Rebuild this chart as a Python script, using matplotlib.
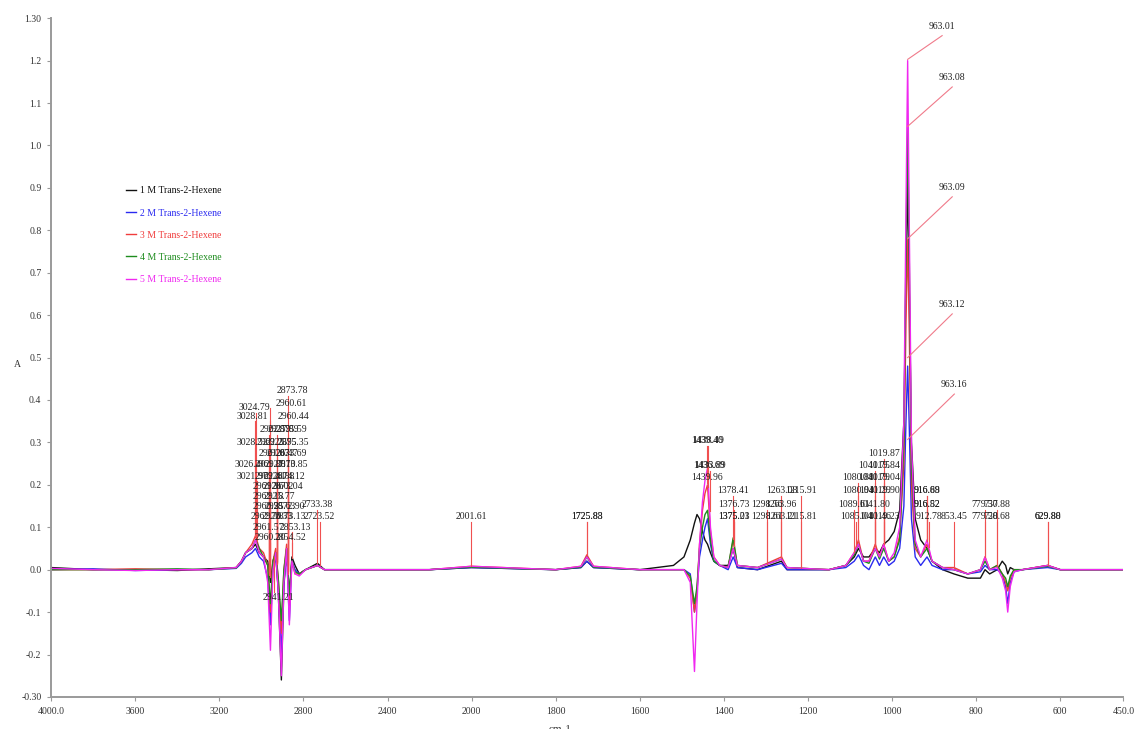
import numpy as np
import matplotlib
matplotlib.use('Agg')
import matplotlib.pyplot as plt

# ---- spectra ----
wavenumber = [
    4000, 3800, 3600, 3400, 3250, 3120, 3095, 3075, 3045, 3028,
    3010, 2990, 2970, 2957, 2945, 2932, 2920, 2905, 2893, 2880,
    2867, 2855, 2840, 2820, 2790, 2733, 2700, 2500, 2200, 2001,
    1800, 1740, 1726, 1710, 1600, 1520, 1495, 1480, 1470, 1464,
    1458, 1451, 1445, 1439, 1432, 1424, 1410, 1390, 1378, 1368,
    1320, 1263, 1250, 1150, 1110, 1090, 1080, 1068, 1055, 1040,
    1030, 1020, 1008, 995, 982, 972, 967, 963, 959, 954,
    945, 932, 917, 905, 880, 853, 820, 790, 779, 768,
    750, 738, 730, 725, 719, 710, 690, 630, 600, 450]

a_1m = [
    0.005, 0.0, 0.0, -0.002, 0.002, 0.005, 0.02, 0.04, 0.05, 0.06,
    0.04, 0.03, 0.02, -0.03, 0.02, 0.04, -0.05, -0.26, -0.04, 0.05,
    -0.06, 0.03, 0.01, -0.01, 0.0, 0.015, 0.0, 0.0, 0.0, 0.005,
    0.0, 0.005, 0.02, 0.005, 0.0, 0.01, 0.03, 0.07, 0.11, 0.13,
    0.12, 0.09, 0.07, 0.06, 0.04, 0.02, 0.01, 0.01, 0.05, 0.005,
    0.0, 0.02, 0.0, 0.0, 0.01, 0.03, 0.05, 0.03, 0.03, 0.05,
    0.04, 0.06, 0.07, 0.09, 0.14, 0.35, 0.7, 0.92, 0.65, 0.3,
    0.12, 0.07, 0.05, 0.02, 0.0, -0.01, -0.02, -0.02, 0.0, -0.01,
    0.0, 0.02, 0.01, -0.01, 0.005, 0.0, 0.0, 0.01, 0.0, 0.0]

a_2m = [
    0.0, 0.002, -0.002, 0.0, 0.0, 0.003, 0.015, 0.03, 0.04, 0.05,
    0.03, 0.02, -0.02, -0.13, 0.0, 0.03, -0.04, -0.2, -0.03, 0.04,
    -0.12, 0.02, 0.0, -0.01, 0.0, 0.01, 0.0, 0.0, 0.0, 0.005,
    0.0, 0.005, 0.02, 0.005, 0.0, 0.0, 0.0, -0.01, -0.1, -0.05,
    0.03, 0.07, 0.1, 0.12, 0.06, 0.02, 0.01, 0.0, 0.03, 0.005,
    0.0, 0.015, 0.0, 0.0, 0.005, 0.02, 0.035, 0.01, 0.0, 0.03,
    0.01, 0.03, 0.01, 0.02, 0.05, 0.15, 0.35, 0.48, 0.33, 0.12,
    0.03, 0.01, 0.03, 0.01, 0.0, 0.0, -0.01, -0.005, 0.01, 0.0,
    0.0, -0.01, -0.04, -0.08, -0.03, -0.005, 0.0, 0.005, 0.0, 0.0]

a_3m = [
    0.0, 0.0, 0.002, 0.0, 0.0, 0.005, 0.02, 0.04, 0.06, 0.08,
    0.05, 0.04, 0.01, -0.1, 0.02, 0.05, -0.02, -0.15, 0.0, 0.06,
    -0.08, 0.02, -0.01, -0.01, 0.0, 0.01, 0.0, 0.0, 0.0, 0.008,
    0.0, 0.008, 0.035, 0.008, 0.0, 0.0, 0.0, -0.02, -0.1, -0.05,
    0.06, 0.14, 0.18, 0.2, 0.09, 0.03, 0.01, 0.005, 0.07, 0.01,
    0.005, 0.03, 0.005, 0.0, 0.01, 0.04, 0.07, 0.02, 0.02, 0.06,
    0.03, 0.06, 0.02, 0.03, 0.08, 0.25, 0.58, 0.78, 0.55, 0.2,
    0.05, 0.03, 0.06, 0.02, 0.005, 0.005, -0.01, 0.0, 0.03, 0.0,
    0.01, -0.01, -0.03, -0.05, -0.02, 0.0, 0.0, 0.01, 0.0, 0.0]

a_4m = [
    0.0, 0.0, 0.0, 0.002, 0.0, 0.004, 0.02, 0.04, 0.05, 0.07,
    0.05, 0.03, 0.01, -0.08, 0.02, 0.04, -0.02, -0.12, 0.0, 0.05,
    -0.06, 0.02, -0.005, -0.01, 0.0, 0.01, 0.0, 0.0, 0.0, 0.006,
    0.0, 0.006, 0.03, 0.006, 0.0, 0.0, 0.0, -0.015, -0.08, -0.04,
    0.05, 0.1, 0.13, 0.14, 0.07, 0.02, 0.01, 0.005, 0.075, 0.01,
    0.005, 0.025, 0.005, 0.0, 0.01, 0.035, 0.06, 0.02, 0.015, 0.05,
    0.025, 0.05, 0.02, 0.03, 0.07, 0.3, 0.75, 1.045, 0.72, 0.25,
    0.06, 0.03, 0.05, 0.02, 0.005, 0.0, -0.01, 0.0, 0.02, 0.0,
    0.01, -0.01, -0.02, -0.04, -0.015, 0.0, 0.0, 0.008, 0.0, 0.0]

a_5m = [
    0.003, 0.0, -0.002, 0.0, 0.0, 0.005, 0.02, 0.04, 0.05, 0.07,
    0.04, 0.03, -0.03, -0.19, 0.0, 0.04, -0.05, -0.25, -0.03, 0.05,
    -0.13, 0.02, -0.01, -0.015, 0.0, 0.01, 0.0, 0.0, 0.0, 0.008,
    0.0, 0.008, 0.03, 0.008, 0.0, 0.0, 0.0, -0.03, -0.24, -0.08,
    0.06, 0.16, 0.21, 0.24, 0.1, 0.03, 0.01, 0.005, 0.05, 0.01,
    0.005, 0.025, 0.005, 0.0, 0.01, 0.04, 0.06, 0.02, 0.02, 0.05,
    0.03, 0.06, 0.02, 0.04, 0.1, 0.35, 0.85, 1.2, 0.8, 0.3,
    0.07, 0.03, 0.07, 0.02, 0.005, 0.0, -0.01, 0.0, 0.03, 0.0,
    0.005, -0.02, -0.05, -0.1, -0.04, -0.005, 0.0, 0.01, 0.0, 0.0]

series_names = ['1 M Trans-2-Hexene', '2 M Trans-2-Hexene', '3 M Trans-2-Hexene',
                '4 M Trans-2-Hexene', '5 M Trans-2-Hexene']
series_colors = ['#111111', '#2a2af0', '#f03c3c', '#1e8c1e', '#f028f0']

# ---- peak labels with vertical lines ----
peak_text = ['1438.49', '1439.40', '1019.87',
             '1436.69', '1433.89', '1041.75', '1019.84',
             '1439.96', '1080.88', '1041.79', '1019.04',
             '1378.41', '1263.08', '1215.91', '1080.94', '1041.29', '1019.90', '916.69', '916.88',
             '1376.73', '1298.56', '1263.96', '1089.61', '1041.80', '916.82', '916.52', '779.37', '750.88',
             '2733.38', '2723.52',
             '2001.61', '1725.88', '1725.83', '1375.21', '1375.03', '1298.61', '1263.21', '1215.81',
             '1085.04', '1041.46', '1019.23', '912.78', '853.45', '779.28', '750.68', '629.88', '629.80']
peak_wn = [1438.49, 1439.40, 1019.87,
           1436.69, 1433.89, 1041.75, 1019.84,
           1439.96, 1080.88, 1041.79, 1019.04,
           1378.41, 1263.08, 1215.91, 1080.94, 1041.29, 1019.90, 916.69, 916.88,
           1376.73, 1298.56, 1263.96, 1089.61, 1041.80, 916.82, 916.52, 779.37, 750.88,
           2733.38, 2723.52,
           2001.61, 1725.88, 1725.83, 1375.21, 1375.03, 1298.61, 1263.21, 1215.81,
           1085.04, 1041.46, 1019.23, 912.78, 853.45, 779.28, 750.68, 629.88, 629.80]
peak_y = [0.304, 0.304, 0.274,
          0.245, 0.245, 0.245, 0.245,
          0.217, 0.217, 0.217, 0.217,
          0.186, 0.186, 0.186, 0.186, 0.186, 0.186, 0.186, 0.186,
          0.153, 0.153, 0.153, 0.153, 0.153, 0.153, 0.153, 0.153, 0.153,
          0.153, 0.125,
          0.125, 0.125, 0.125, 0.125, 0.125, 0.125, 0.125, 0.125,
          0.125, 0.125, 0.125, 0.125, 0.125, 0.125, 0.125, 0.125, 0.125]

# ---- crowded C-H stretch labels (text shifted from its line) ----
ch_text = ['2873.78', '2960.61', '3024.79', '3028.81', '2960.44',
           '2962.59', '2927.89', '2875.59',
           '3028.52', '2962.25', '2925.95', '2875.35',
           '2961.03', '2926.47', '2873.69',
           '3026.40', '2961.80', '2927.10', '2873.85',
           '3021.97', '2962.41', '2926.88', '2874.12',
           '2961.36', '2926.02', '2873.04',
           '2962.18', '2925.77',
           '2960.95', '2925.63', '2872.90',
           '2962.70', '2926.33', '2873.13',
           '2961.57', '2853.13',
           '2960.20', '2854.52',
           '2941.21']
ch_wn = [2873.78, 2960.61, 3024.79, 3028.81, 2960.44,
         2962.59, 2927.89, 2875.59,
         3028.52, 2962.25, 2925.95, 2875.35,
         2961.03, 2926.47, 2873.69,
         3026.40, 2961.80, 2927.10, 2873.85,
         3021.97, 2962.41, 2926.88, 2874.12,
         2961.36, 2926.02, 2873.04,
         2962.18, 2925.77,
         2960.95, 2925.63, 2872.90,
         2962.70, 2926.33, 2873.13,
         2961.57, 2853.13,
         2960.20, 2854.52,
         2941.21]
ch_text_wn = [2852, 2857, 3033, 3043, 2848,
              2933, 2895, 2857,
              3043, 2948, 2905, 2848,
              2938, 2900, 2857,
              3052, 2957, 2910, 2852,
              3043, 2957, 2914, 2867,
              2967, 2919, 2876,
              2967, 2914,
              2967, 2910, 2867,
              2976, 2924, 2862,
              2967, 2838,
              2957, 2862,
              2919]
ch_y = [0.422, 0.392, 0.382, 0.362, 0.362,
        0.33, 0.33, 0.33,
        0.30, 0.30, 0.30, 0.30,
        0.275, 0.275, 0.275,
        0.248, 0.248, 0.248, 0.248,
        0.22, 0.22, 0.22, 0.22,
        0.195, 0.195, 0.195,
        0.172, 0.172,
        0.15, 0.15, 0.15,
        0.125, 0.125, 0.125,
        0.10, 0.10,
        0.075, 0.075,
        -0.065]

# ---- 963 band labels with slanted leaders ----
lead_text = ['963.01', '963.08', '963.09', '963.12', '963.16']
lead_text_wn = [881, 857, 857, 857, 852]
lead_text_y = [1.281, 1.160, 0.901, 0.625, 0.436]
lead_end_y = [1.203, 1.045, 0.78, 0.50, 0.307]
lead_peak = 963.0

x_ticks = [4000, 3600, 3200, 2800, 2400, 2000, 1800, 1600, 1400, 1200, 1000, 800, 600, 450]
x_tick_labels = ['4000.0', '3600', '3200', '2800', '2400', '2000', '1800', '1600',
                 '1400', '1200', '1000', '800', '600', '450.0']
y_ticks = [-0.3, -0.2, -0.1, 0.0, 0.1, 0.2, 0.3, 0.4, 0.5, 0.6, 0.7, 0.8, 0.9, 1.0, 1.1, 1.2, 1.3]
y_tick_labels = ['-0.30', '-0.2', '-0.1', '0.0', '0.1', '0.2', '0.3', '0.4', '0.5', '0.6',
                 '0.7', '0.8', '0.9', '1.0', '1.1', '1.2', '1.30']


# x axis is compressed 2:1 above 2000 cm-1
def fwd(w):
    w = np.asarray(w, dtype=float)
    return np.where(w > 2000, 2000 + (w - 2000) / 2.0, w)


def inv(t):
    t = np.asarray(t, dtype=float)
    return np.where(t > 2000, 2000 + (t - 2000) * 2.0, t)


serif = 'Liberation Serif'
fig = plt.figure(figsize=(11.37, 7.29), dpi=100)
ax = fig.add_axes([0.045, 0.044, 0.943, 0.931])
ax.set_xscale('function', functions=(fwd, inv))

wn = np.array(wavenumber, dtype=float)
all_series = [a_1m, a_2m, a_3m, a_4m, a_5m]
for vals, name, col in zip(all_series, series_names, series_colors):
    ax.plot(wn, vals, color=col, lw=1.0, label=name, zorder=2)

# top curve at a wavenumber, used as the foot of each label line
order = np.argsort(wn)
stack = np.array(all_series, dtype=float)


def top_at(w):
    return max(np.interp(w, wn[order], s[order]) for s in stack)


line_col = '#f05050'
for t, w, y in zip(peak_text, peak_wn, peak_y):
    ax.plot([w, w], [top_at(w), y - 0.012], color=line_col, lw=0.8, zorder=3)
    ax.text(w, y, t, ha='center', va='center', fontsize=7, family=serif,
            color='#222222', zorder=4)

for t, w, tw, y in zip(ch_text, ch_wn, ch_text_wn, ch_y):
    foot = top_at(w)
    end = y - 0.012 if y > foot else y + 0.012
    ax.plot([w, w], [foot, end], color=line_col, lw=0.8, zorder=3)
    ax.text(tw, y, t, ha='center', va='center', fontsize=7, family=serif,
            color='#222222', zorder=4)

for t, tw, ty, ey in zip(lead_text, lead_text_wn, lead_text_y, lead_end_y):
    ax.plot([tw, lead_peak], [ty - 0.022, ey], color='#f07a8a', lw=0.8, zorder=3)
    ax.text(tw, ty, t, ha='center', va='center', fontsize=7, family=serif,
            color='#222222', zorder=4)

ax.set_xlim(4000, 450)
ax.set_ylim(-0.3, 1.3)
ax.set_xticks(x_ticks)
ax.set_xticklabels(x_tick_labels, family=serif, fontsize=7, color='#333333')
ax.set_yticks(y_ticks)
ax.set_yticklabels(y_tick_labels, family=serif, fontsize=7, color='#333333')
ax.xaxis.set_minor_locator(matplotlib.ticker.NullLocator())
ax.tick_params(length=3, width=0.8, color='#999999', pad=4)

for s in ['top', 'right']:
    ax.spines[s].set_visible(False)
for s in ['left', 'bottom']:
    ax.spines[s].set_color('#9a9a9a')
    ax.spines[s].set_linewidth(1.4)

fig.text(0.012, 0.5, 'A', family=serif, fontsize=7, color='#333333', va='center')
fig.text(0.493, 0.0, 'cm-1', family=serif, fontsize=8, color='#333333',
         ha='center', va='center')

ax.legend(loc='upper left', bbox_to_anchor=(0.062, 0.765), frameon=False,
          prop={'family': serif, 'size': 7}, handlelength=1.0, handletextpad=0.4,
          labelspacing=1.35, labelcolor='linecolor')

fig.savefig('out.png', dpi=100)
